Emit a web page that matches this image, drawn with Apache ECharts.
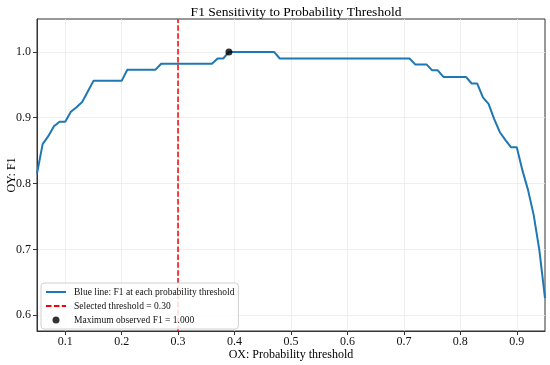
<!DOCTYPE html>
<html>
<head>
<meta charset="utf-8">
<script src="https://cdn.jsdelivr.net/npm/echarts@6/dist/echarts.min.js"></script>
<style>html,body{margin:0;padding:0;background:#fff}#c{width:550px;height:365px}</style>
</head>
<body>
<div id="c"></div>
<script>
var thresholds = [0.05,0.06,0.07,0.08,0.09,0.10,0.11,0.12,0.13,0.14,0.15,0.16,0.17,0.18,0.19,0.20,
  0.21,0.22,0.23,0.24,0.25,0.26,0.27,0.28,0.29,0.30,0.31,0.32,0.33,0.34,0.35,0.36,0.37,0.38,0.39,0.40,
  0.41,0.42,0.43,0.44,0.45,0.46,0.47,0.48,0.49,0.50,0.51,0.52,0.53,0.54,0.55,0.56,0.57,0.58,0.59,0.60,
  0.61,0.62,0.63,0.64,0.65,0.66,0.67,0.68,0.69,0.70,0.71,0.72,0.73,0.74,0.75,0.76,0.77,0.78,0.79,0.80,
  0.81,0.82,0.83,0.84,0.85,0.86,0.87,0.88,0.89,0.90,0.91,0.92,0.93,0.94,0.95];
var f1Values = [0.815,0.860,0.872,0.887,0.894,0.894,0.909,0.916,0.924,0.940,0.956,0.956,0.956,0.956,0.956,0.956,
  0.973,0.973,0.973,0.973,0.973,0.973,0.982,0.982,0.982,0.982,0.982,0.982,0.982,0.982,0.982,0.982,0.990,0.990,1.000,1.000,
  1.000,1.000,1.000,1.000,1.000,1.000,1.000,0.990,0.990,0.990,0.990,0.990,0.990,0.990,0.990,0.990,0.990,0.990,0.990,0.990,
  0.990,0.990,0.990,0.990,0.990,0.990,0.990,0.990,0.990,0.990,0.990,0.981,0.981,0.981,0.972,0.972,0.962,0.962,0.962,0.962,
  0.962,0.952,0.952,0.931,0.921,0.898,0.878,0.866,0.855,0.855,0.820,0.790,0.752,0.699,0.626];
var selectedThreshold = 0.30;
var maxPoint = [0.39, 1.000];
var xTicks = [0.1,0.2,0.3,0.4,0.5,0.6,0.7,0.8,0.9];
var yTicks = [0.6,0.7,0.8,0.9,1.0];
var xRange = [0.05, 0.95];
var yRange = [0.576, 1.05];

var lineData = thresholds.map(function(t,i){return [t, f1Values[i]];});
var FONT = '"Liberation Serif", "Times New Roman", serif';
var NAMES = ['Blue line: F1 at each probability threshold', 'Selected threshold = 0.30', 'Maximum observed F1 = 1.000'];

var chart = echarts.init(document.getElementById('c'), null, {renderer:'canvas'});
chart.setOption({
  animation: false,
  backgroundColor: '#fff',
  title: {
    text: 'F1 Sensitivity to Probability Threshold',
    left: 291, top: 0, textAlign: 'center',
    textStyle: {fontFamily: FONT, fontSize: 13.5, fontWeight: 'normal', color: '#000'}
  },
  grid: {left: 37, right: 5, top: 19, bottom: 34, containLabel: false, outerBoundsMode: 'none',
    show: true, borderColor: '#333', borderWidth: 1, backgroundColor: 'transparent'},
  legend: {
    orient: 'vertical', left: 41, top: 283, z: 20,
    backgroundColor: 'rgba(255,255,255,0.85)', borderColor: '#d0d0d0', borderWidth: 1, borderRadius: 3,
    padding: [4, 4, 4, 4], itemGap: 4, itemWidth: 20, itemHeight: 7,
    textStyle: {fontFamily: FONT, fontSize: 9.5, color: '#111', padding: [0, 0, 0, 3]},
    data: [
      {name: NAMES[0], itemStyle: {opacity: 0}},
      {name: NAMES[1], itemStyle: {opacity: 0}},
      {name: NAMES[2]}
    ]
  },
  xAxis: {
    type: 'value', min: xRange[0], max: xRange[1],
    name: 'OX: Probability threshold', nameLocation: 'middle', nameGap: 18, nameMoveOverlap: false,
    nameTextStyle: {fontFamily: FONT, fontSize: 12, color: '#000'},
    axisLine: {show: true, lineStyle: {color: '#333', width: 1}},
    axisTick: {show: true, inside: false, length: 4, lineStyle: {color: '#333'}, customValues: xTicks},
    axisLabel: {fontFamily: FONT, fontSize: 12, color: '#111', margin: 5, customValues: xTicks, formatter: function(v){return v.toFixed(1);}},
    splitLine: {show: true, lineStyle: {color: '#ebebeb', width: 0.8}}
  },
  yAxis: {
    type: 'value', min: yRange[0], max: yRange[1],
    name: 'OY: F1', nameLocation: 'middle', nameGap: 19, nameRotate: 90, nameMoveOverlap: false,
    nameTextStyle: {fontFamily: FONT, fontSize: 12, color: '#000'},
    axisLine: {show: true, lineStyle: {color: '#333', width: 1}},
    axisTick: {show: true, inside: false, length: 4, lineStyle: {color: '#333'}, customValues: yTicks},
    axisLabel: {fontFamily: FONT, fontSize: 12, color: '#111', margin: 6, customValues: yTicks, formatter: function(v){return v.toFixed(1);}},
    splitLine: {show: true, lineStyle: {color: '#ebebeb', width: 0.8}}
  },
  series: [
    {
      name: NAMES[0], type: 'line', data: lineData,
      symbol: 'none', lineStyle: {color: '#1f77b4', width: 2}, itemStyle: {color: '#1f77b4'}, z: 3
    },
    {
      name: NAMES[1], type: 'line', data: [],
      symbol: 'none', lineStyle: {color: '#ff0000', width: 1.5, type: [5.5, 2.4]}, itemStyle: {color: '#ff0000'},
      markLine: {
        silent: true, symbol: 'none', label: {show: false},
        lineStyle: {color: '#ff0000', width: 1.5, type: [5.5, 2.4]},
        data: [{xAxis: selectedThreshold}]
      }, z: 4
    },
    {
      name: NAMES[2], type: 'scatter', data: [maxPoint],
      symbol: 'circle', symbolSize: 7, itemStyle: {color: '#000'}, z: 5
    }
  ]
});
</script>
</body>
</html>
